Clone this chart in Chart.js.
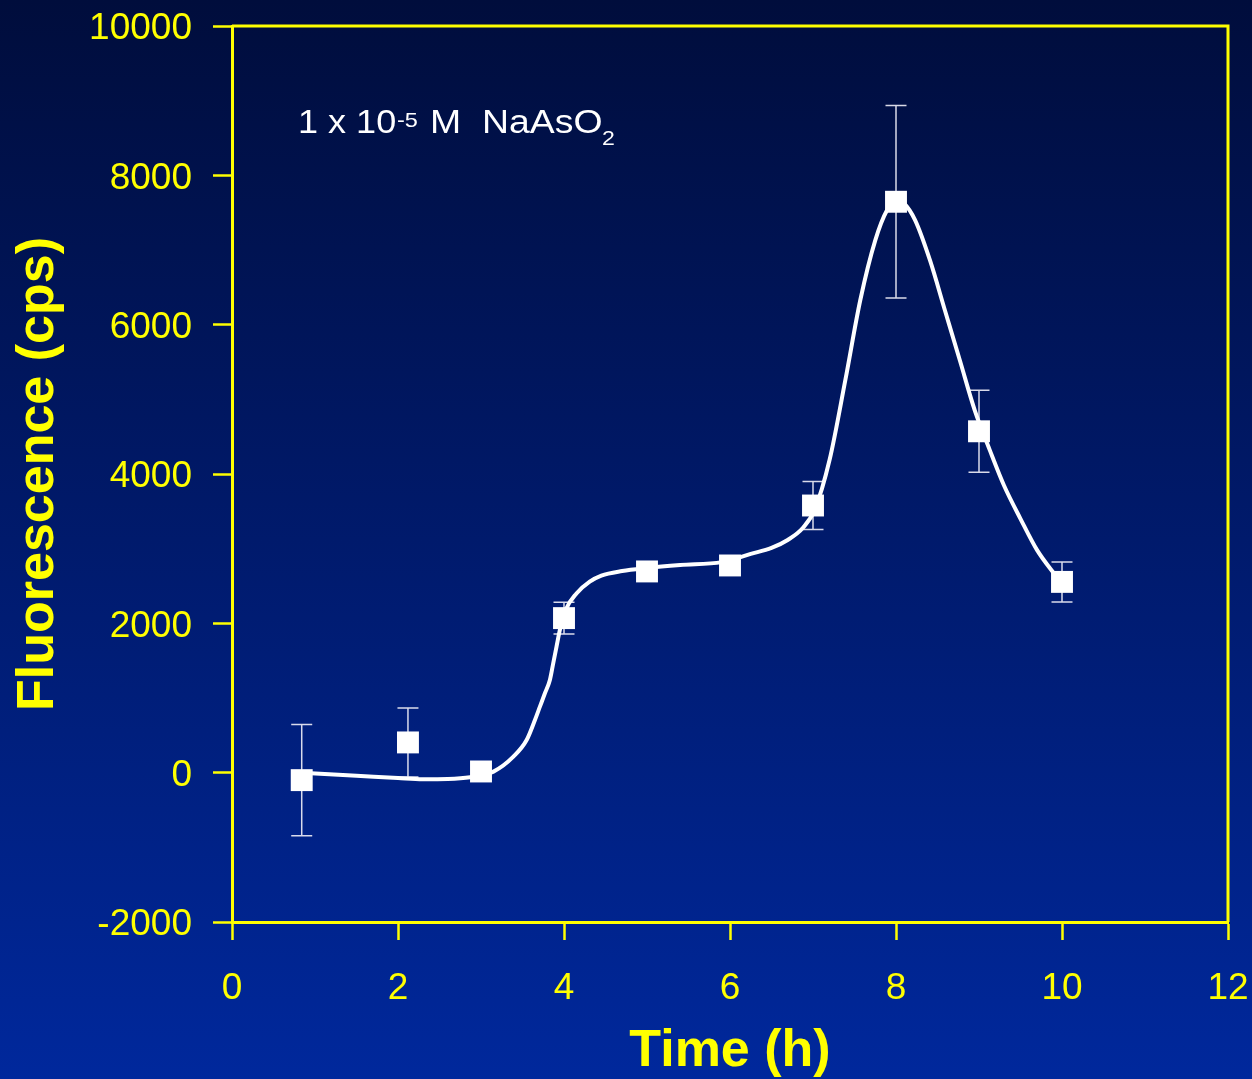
<!DOCTYPE html>
<html>
<head>
<meta charset="utf-8">
<script src="https://cdn.jsdelivr.net/npm/chart.js@4/dist/chart.umd.min.js"></script>
<style>
  html, body { margin: 0; padding: 0; }
  body { width: 1252px; height: 1079px; overflow: hidden;
         background: linear-gradient(to bottom, #000d3c 0%, #001a6c 50%, #00289c 100%); }
  #wrap { position: absolute; left: 0; top: 0; width: 1252px; height: 1079px; }
</style>
</head>
<body>
<div id="wrap"><canvas id="c" width="1252" height="1079"></canvas></div>
<script>
// ---- data ----
const timeH      = [0.84, 2.12, 3.0, 4.0, 5.0, 6.0, 7.0, 8.0, 9.0, 10.0];
const fluor      = [-100, 405, 16, 2070, 2695, 2775, 3578, 7646, 4572, 2555];
const fluorErr   = [745, 462, 0, 212, 0, 0, 320, 1288, 550, 268];

// smooth fitted curve
const curveX = [0.84, 1.5, 2.0, 2.3, 2.6, 2.87, 3.15, 3.39, 3.55, 3.65, 3.71, 3.77, 3.83, 3.87, 3.91, 3.95, 4.02, 4.15, 4.31, 4.45, 4.7, 5.0, 5.4, 5.9, 6.25, 6.5, 6.7, 6.88, 7.02, 7.2, 7.39, 7.57, 7.75, 7.89, 8.0, 8.1, 8.23, 8.41, 8.59, 8.77, 8.95, 9.13, 9.3, 9.5, 9.7, 9.95];
const curveY = [0, -40, -72, -88, -85, -62, 14, 214, 437, 705, 884, 1063, 1241, 1464, 1687, 1910, 2180, 2400, 2558, 2640, 2700, 2740, 2780, 2820, 2930, 3010, 3120, 3280, 3520, 4190, 5260, 6330, 7130, 7530, 7660, 7620, 7400, 6860, 6190, 5520, 4850, 4320, 3850, 3400, 2980, 2600];

const xTicks = [0, 2, 4, 6, 8, 10, 12];
const yTicks = [-2000, 0, 2000, 4000, 6000, 8000, 10000];
const xTitle = 'Time (h)';
const yTitle = 'Fluorescence (cps)';

const YELLOW = '#ffff00';
const FONT = '"Liberation Sans", Arial, Helvetica, sans-serif';

const frame = {
  id: 'frame',
  afterDraw(chart) {
    const {ctx, chartArea: a} = chart;
    ctx.save();
    ctx.strokeStyle = YELLOW;
    ctx.lineWidth = 3;
    ctx.beginPath();
    ctx.moveTo(a.left, a.top);
    ctx.lineTo(a.right, a.top);
    ctx.lineTo(a.right, a.bottom);
    ctx.stroke();
    ctx.restore();
  }
};

const errorBars = {
  id: 'errorBars',
  beforeDatasetsDraw(chart) {
    const {ctx, scales: {x, y}} = chart;
    ctx.save();
    ctx.strokeStyle = 'rgba(235,235,245,0.92)';
    ctx.lineWidth = 1.5;
    const cap = 10.5;
    timeH.forEach((t, i) => {
      const e = fluorErr[i];
      if (!e) return;
      const px = x.getPixelForValue(t);
      const top = y.getPixelForValue(fluor[i] + e);
      const bot = y.getPixelForValue(fluor[i] - e);
      ctx.beginPath();
      ctx.moveTo(px, top); ctx.lineTo(px, bot);
      ctx.moveTo(px - cap, top); ctx.lineTo(px + cap, top);
      ctx.moveTo(px - cap, bot); ctx.lineTo(px + cap, bot);
      ctx.stroke();
    });
    ctx.restore();
  }
};

const annotation = {
  id: 'annotation',
  afterDraw(chart) {
    const {ctx} = chart;
    ctx.save();
    ctx.fillStyle = '#ffffff';
    ctx.textBaseline = 'alphabetic';
    ctx.textAlign = 'left';
    const piece = (txt, x, yb, size, sx) => {
      ctx.save();
      ctx.font = size + 'px ' + FONT;
      ctx.translate(x, yb);
      ctx.scale(sx, 1);
      ctx.fillText(txt, 0, 0);
      ctx.restore();
    };
    piece('1 x 10', 298, 133, 34, 1.06);
    piece('-5', 397, 127, 21, 1.12);
    piece('M', 430, 133, 34, 1.1);
    piece('NaAsO', 482, 133, 34, 1.1);
    piece('2', 602, 145, 21, 1.1);
    ctx.restore();
  }
};

const zeroPad = s => { s.paddingTop = 0; s.paddingBottom = 0; s.paddingLeft = 0; s.paddingRight = 0; };

new Chart(document.getElementById('c'), {
  type: 'scatter',
  data: {
    datasets: [
      {
        label: 'NaAsO2',
        data: timeH.map((t, i) => ({x: t, y: fluor[i]})),
        showLine: false,
        pointStyle: 'rect',
        pointRadius: 15.5,
        pointHoverRadius: 15.5,
        backgroundColor: '#ffffff',
        borderColor: '#ffffff',
        borderWidth: 0
      },
      {
        label: 'fit',
        data: curveX.map((t, i) => ({x: t, y: curveY[i]})),
        showLine: true,
        pointRadius: 0,
        borderColor: '#ffffff',
        borderWidth: 4,
        cubicInterpolationMode: 'monotone',
        fill: false
      }
    ]
  },
  options: {
    responsive: false,
    animation: false,
    devicePixelRatio: 1,
    layout: { padding: { top: 26, right: 24, left: 0, bottom: 0 } },
    plugins: { legend: { display: false }, tooltip: { enabled: false } },
    scales: {
      x: {
        type: 'linear',
        min: 0, max: 12,
        afterFit: s => { s.height = 157; zeroPad(s); },
        afterBuildTicks: s => { s.ticks = xTicks.map(v => ({value: v})); },
        ticks: { color: YELLOW, font: { family: FONT, size: 37 }, padding: 27, maxRotation: 0,
                 callback: v => String(v) },
        grid: { drawOnChartArea: false, drawTicks: true, tickLength: 18, tickColor: YELLOW, tickWidth: 2.5 },
        border: { color: YELLOW, width: 3 },
        title: { display: true, text: xTitle, color: YELLOW,
                 font: { family: FONT, size: 52, weight: 'bold', lineHeight: 1.05 }, padding: 0 }
      },
      y: {
        type: 'linear',
        min: -2000, max: 10000,
        afterFit: s => { s.width = 232; zeroPad(s); },
        afterBuildTicks: s => { s.ticks = yTicks.map(v => ({value: v})); },
        ticks: { color: YELLOW, font: { family: FONT, size: 37 }, padding: 21, labelOffset: 3,
                 callback: v => String(v) },
        grid: { drawOnChartArea: false, drawTicks: true, tickLength: 19, tickColor: YELLOW, tickWidth: 2.5 },
        border: { color: YELLOW, width: 3 },
        title: { display: true, text: yTitle, color: YELLOW,
                 font: { family: FONT, size: 52, weight: 'bold', lineHeight: 1.1 }, padding: { top: 10, bottom: 0 } }
      }
    }
  },
  plugins: [errorBars, frame, annotation]
});
</script>
</body>
</html>
